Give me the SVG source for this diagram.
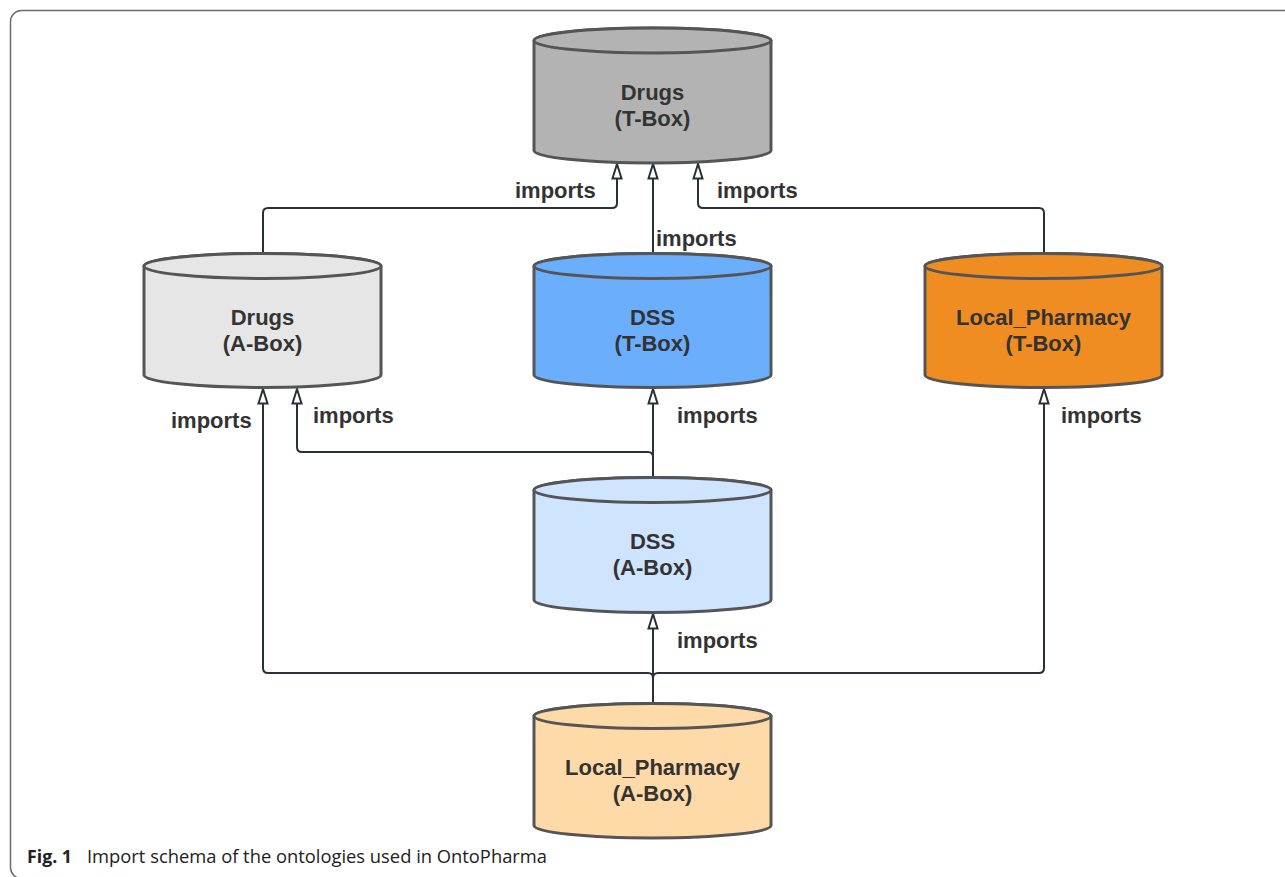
<svg xmlns="http://www.w3.org/2000/svg" width="1285" height="877" viewBox="0 0 1285 877">
<style>
.cyl{stroke:#555;stroke-width:3}
.lbl{font-family:"Liberation Sans",Arial,sans-serif;font-weight:bold;font-size:22px;fill:#333;text-anchor:middle}
.imp{font-family:"Liberation Sans",Arial,sans-serif;font-weight:bold;font-size:22px;fill:#333}
.con{fill:none;stroke:#2b3038;stroke-width:2}
</style>
<defs>
<marker id="ah" viewBox="0 0 17 12" refX="16" refY="6" markerWidth="17" markerHeight="12" markerUnits="userSpaceOnUse" orient="auto">
<path d="M1.5,1.5 L16,6 L1.5,10.5 Z" fill="#fff" stroke="#2b3038" stroke-width="2" stroke-linejoin="miter"/>
</marker>
</defs>
<rect width="1285" height="877" fill="#fff"/>
<rect x="10.5" y="10.5" width="1300" height="868" rx="11" fill="none" stroke="#6b6b6b" stroke-width="1.5"/>

<g id="connectors">
<path class="con" marker-end="url(#ah)" d="M263,253 L263,213 Q263,208 268,208 L612,208 Q617,208 617,203 L617,164"/>
<path class="con" marker-end="url(#ah)" d="M653,253 L653,164"/>
<path class="con" marker-end="url(#ah)" d="M1044,253 L1044,213 Q1044,208 1039,208 L703,208 Q698,208 698,203 L698,164"/>
<path class="con" marker-end="url(#ah)" d="M653,477 L653,389"/>
<path class="con" marker-end="url(#ah)" d="M653,477 L653,457 Q653,452 648,452 L302,452 Q297,452 297,447 L297,389"/>
<path class="con" marker-end="url(#ah)" d="M653,703 L653,614"/>
<path class="con" marker-end="url(#ah)" d="M653,703 L653,678 Q653,673 648,673 L268,673 Q263,673 263,668 L263,389"/>
<path class="con" marker-end="url(#ah)" d="M653,703 L653,678 Q653,673 658,673 L1039,673 Q1044,673 1044,668 L1044,389"/>
<text class="imp" x="515" y="198">imports</text>
<text class="imp" x="717" y="198">imports</text>
<text class="imp" x="656" y="246">imports</text>
<text class="imp" x="171" y="428">imports</text>
<text class="imp" x="313" y="423">imports</text>
<text class="imp" x="677" y="423">imports</text>
<text class="imp" x="1061" y="423">imports</text>
<text class="imp" x="677" y="648">imports</text>
</g>

<g id="drugs-tbox">
<path class="cyl" fill="#b3b3b3" d="M534,40.5 L534,150.5 A118.5,12.5 0 0 0 771,150.5 L771,40.5 A118.5,12.5 0 0 0 534,40.5 Z"/>
<ellipse class="cyl" fill="#b3b3b3" cx="652.5" cy="40.5" rx="118.5" ry="12.5"/>
<text class="lbl" x="652.5" y="100">Drugs</text>
<text class="lbl" x="652.5" y="126">(T-Box)</text>
</g>

<g id="drugs-abox">
<path class="cyl" fill="#e6e6e6" d="M144,266 L144,375 A118.5,12.5 0 0 0 381,375 L381,266 A118.5,12.5 0 0 0 144,266 Z"/>
<ellipse class="cyl" fill="#e6e6e6" cx="262.5" cy="266" rx="118.5" ry="12.5"/>
<text class="lbl" x="262.5" y="325">Drugs</text>
<text class="lbl" x="262.5" y="351">(A-Box)</text>
</g>

<g id="dss-tbox">
<path class="cyl" fill="#6aaefc" d="M534,266 L534,375 A118.5,12.5 0 0 0 771,375 L771,266 A118.5,12.5 0 0 0 534,266 Z"/>
<ellipse class="cyl" fill="#6aaefc" cx="652.5" cy="266" rx="118.5" ry="12.5"/>
<text class="lbl" x="652.5" y="325">DSS</text>
<text class="lbl" x="652.5" y="351">(T-Box)</text>
</g>

<g id="lp-tbox">
<path class="cyl" fill="#ef8c22" d="M925,266 L925,375 A118.5,12.5 0 0 0 1162,375 L1162,266 A118.5,12.5 0 0 0 925,266 Z"/>
<ellipse class="cyl" fill="#ef8c22" cx="1043.5" cy="266" rx="118.5" ry="12.5"/>
<text class="lbl" x="1043.5" y="325">Local_Pharmacy</text>
<text class="lbl" x="1043.5" y="351">(T-Box)</text>
</g>

<g id="dss-abox">
<path class="cyl" fill="#cfe4ff" d="M534,490 L534,600 A118.5,12.5 0 0 0 771,600 L771,490 A118.5,12.5 0 0 0 534,490 Z"/>
<ellipse class="cyl" fill="#cfe4ff" cx="652.5" cy="490" rx="118.5" ry="12.5"/>
<text class="lbl" x="652.5" y="549">DSS</text>
<text class="lbl" x="652.5" y="575">(A-Box)</text>
</g>

<g id="lp-abox">
<path class="cyl" fill="#fedaa8" d="M534,716 L534,825.5 A118.5,12.5 0 0 0 771,825.5 L771,716 A118.5,12.5 0 0 0 534,716 Z"/>
<ellipse class="cyl" fill="#fedaa8" cx="652.5" cy="716" rx="118.5" ry="12.5"/>
<text class="lbl" x="652.5" y="775">Local_Pharmacy</text>
<text class="lbl" x="652.5" y="801">(A-Box)</text>
</g>

<text x="27" y="863" font-family="'Open Sans','Liberation Sans',sans-serif" font-size="18" font-weight="bold" fill="#222" textLength="45" lengthAdjust="spacingAndGlyphs">Fig. 1</text>
<text x="87" y="863" font-family="'Open Sans','Liberation Sans',sans-serif" font-size="18" fill="#222" textLength="460" lengthAdjust="spacingAndGlyphs">Import schema of the ontologies used in OntoPharma</text>
</svg>
